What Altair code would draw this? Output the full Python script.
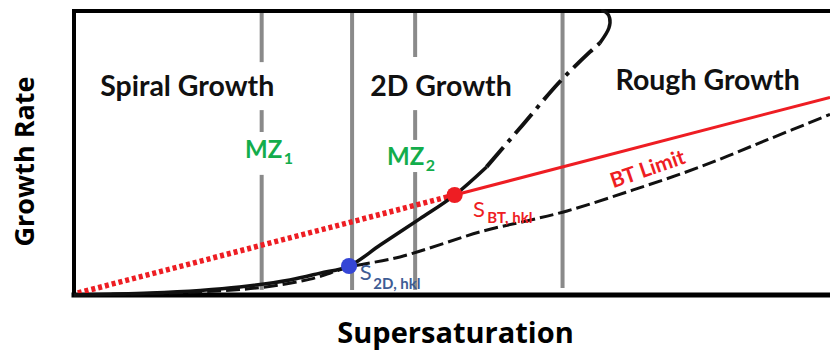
import altair as alt
import pandas as pd

# Regime boundaries (vertical guide segments, broken where labels sit)
rule_x = [24.7, 24.7, 24.7, 36.6, 44.9, 44.9, 44.9, 64.3]
rule_top = [99.6, 65.1, 42.3, 99.6, 99.6, 65.1, 43.3, 99.6]
rule_bottom = [82.0, 57.4, 1.8, 1.8, 83.8, 54.6, 1.8, 2.5]

# 2D nucleation growth curve: solid, dash-dot, then the solid hook at the top
g2d_solid_x = [0, 10.0, 16.6, 21.8, 28.4, 32.4, 36.2, 40.3, 45.5, 50.1, 54.3]
g2d_solid_y = [0, 0.7, 1.6, 2.8, 5.3, 7.7, 10.2, 17.6, 26.8, 35.2, 45.1]
g2d_dash_x = [54.3, 58.7, 63.9, 67.9, 69.2]
g2d_dash_y = [45.1, 58.8, 75.0, 85.6, 88.7]
g2d_hook_x = [69.2, 70.4, 70.5, 70.0, 69.4]
g2d_hook_y = [88.7, 94.0, 97.5, 99.6, 100.0]

# Rough growth curve (dashed)
rough_x = [0, 16.6, 24.5, 31.1, 36.2, 42.9, 53.8, 59.6, 64.9, 73.6, 82.4, 91.2, 99.5]
rough_y = [0, 1.1, 2.6, 5.6, 9.8, 13.4, 22.5, 26.1, 29.6, 37.0, 45.1, 54.6, 63.6]

# BT limit line: dotted below S_BT, solid above
bt_dot_x = [0.5, 50.1]
bt_dot_y = [0.7, 35.2]
bt_solid_x = [50.1, 99.5]
bt_solid_y = [35.2, 69.6]

# Characteristic supersaturations
s2d_x, s2d_y = 36.2, 10.2
sbt_x, sbt_y = 50.1, 35.2

# Region titles
region_text = ["Spiral Growth", "2D Growth", "Rough Growth"]
region_x = [14.9, 48.3, 83.4]
region_y = [70.1, 70.1, 72.2]

RED = "#ee1d23"
GREEN = "#13ad4b"
FONT = "Lato"
TITLE_FONT = "Open Sans"

xs = alt.Scale(domain=[0, 99.5], nice=False, zero=False)
ys = alt.Scale(domain=[0, 100], nice=False, zero=False)

x_axis = alt.Axis(
    title="Supersaturation", labels=False, ticks=False, domain=False, grid=False,
    titleFont=TITLE_FONT, titleFontSize=29, titleFontWeight="bold", titleColor="#000",
    titleX=381, titleY=47, titleBaseline="alphabetic", titleAlign="center",
)
y_axis = alt.Axis(
    title="Growth Rate", labels=False, ticks=False, domain=False, grid=False,
    titleFont=TITLE_FONT, titleFontSize=27, titleFontWeight="bold", titleColor="#000",
    titleX=-41, titleY=150, titleAngle=270, titleBaseline="alphabetic", titleAlign="center",
)


def X(field="x"):
    return alt.X(f"{field}:Q", scale=xs, axis=x_axis, title="Supersaturation")


def Y(field="y"):
    return alt.Y(f"{field}:Q", scale=ys, axis=y_axis, title="Growth Rate")


def line_df(xv, yv):
    return pd.DataFrame({"x": xv, "y": yv, "o": list(range(len(xv)))})


def curve(df, **mark):
    return alt.Chart(df).mark_line(**mark).encode(x=X(), y=Y(), order="o:Q")


rules_df = pd.DataFrame({"x": rule_x, "y": rule_top, "y2": rule_bottom})
rules = alt.Chart(rules_df).mark_rule(color="#8a8a8a", strokeWidth=4).encode(
    x=X(), y=Y(), y2="y2:Q",
)

# Plot frame: left, top and bottom edges
frame_df = pd.DataFrame({
    "x": [0, 0, 0], "x2": [0, 99.5, 99.5],
    "y": [0, 100, 0], "y2": [100, 100, 0],
    "w": [4, 4, 5],
})
frame = alt.Chart(frame_df).mark_rule(color="#000", strokeCap="square").encode(
    x=X(), x2="x2:Q", y=Y(), y2="y2:Q",
    strokeWidth=alt.StrokeWidth("w:Q", scale=None, legend=None),
)

bt_dotted = curve(line_df(bt_dot_x, bt_dot_y), color=RED, strokeWidth=5.5,
                  strokeDash=[4, 3], strokeCap="butt")
bt_solid = curve(line_df(bt_solid_x, bt_solid_y), color=RED, strokeWidth=3)

rough = curve(line_df(rough_x, rough_y), color="#111", strokeWidth=3,
              strokeDash=[14, 5], interpolate="catmull-rom")
g2d_solid = curve(line_df(g2d_solid_x, g2d_solid_y), color="#111", strokeWidth=3.5,
                  interpolate="catmull-rom")
g2d_dash = curve(line_df(g2d_dash_x, g2d_dash_y), color="#111", strokeWidth=4,
                 strokeDash=[26, 7, 4, 7], interpolate="catmull-rom")
g2d_hook = curve(line_df(g2d_hook_x, g2d_hook_y), color="#111", strokeWidth=3.5,
                 interpolate="catmull-rom")

pts_df = pd.DataFrame({"x": [s2d_x, sbt_x], "y": [s2d_y, sbt_y], "c": ["#3546d6", RED]})
pts = alt.Chart(pts_df).mark_circle(size=260, opacity=1).encode(
    x=X(), y=Y(), color=alt.Color("c:N", scale=None, legend=None),
)


def text_layer(texts, xv, yv, size, color, align="left", weight="bold", angle=0):
    df = pd.DataFrame({"t": texts, "x": xv, "y": yv})
    props = dict(font=FONT, fontSize=size, fontWeight=weight, color=color,
                 align=align, baseline="alphabetic")
    if angle:
        props["angle"] = angle
    return alt.Chart(df).mark_text(**props).encode(x=X(), y=Y(), text="t:N")


regions = text_layer(region_text, region_x, region_y, 28.5, "#111", align="center")
mz_main = text_layer(["MZ", "MZ"], [22.5, 41.2], [48.2, 45.8], 24, GREEN)
mz_sub = text_layer(["1", "2"], [27.6, 46.3], [46.1, 43.7], 16, GREEN)
sbt_main = text_layer(["S"], [52.5], [27.5], 22, RED, weight="normal")
sbt_sub = text_layer(["BT, hkl"], [54.4], [25.5], 15, RED)
s2d_main = text_layer(["S"], [37.6], [5.3], 22, "#3e5c94", weight="normal")
s2d_sub = text_layer(["2D, hkl"], [39.4], [2.0], 15, "#3e5c94")
bt_label = text_layer(["BT Limit"], [75.8], [42.0], 21, RED, align="center", angle=341)

chart = alt.layer(
    rules, frame, bt_dotted, bt_solid, rough, g2d_solid, g2d_dash, g2d_hook, pts,
    regions, mz_main, mz_sub, sbt_main, sbt_sub, s2d_main, s2d_sub, bt_label,
).properties(
    width=756, height=284, autosize="none",
    padding={"left": 74, "top": 11, "right": 0, "bottom": 57},
).configure_view(strokeWidth=0).configure(background="white")

chart.save("out.html", embed_options={"renderer": "svg", "actions": False})
